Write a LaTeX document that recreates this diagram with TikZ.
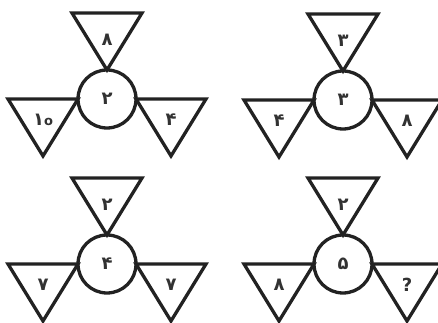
\documentclass[tikz,border=0pt]{standalone}
\usepackage{fontspec}
\usepackage{tikz}
\usetikzlibrary{calc}
\newfontfamily\farsi[Script=Arabic]{DejaVu Sans}
\definecolor{inkdark}{RGB}{34,34,34}
\definecolor{digitgray}{RGB}{50,50,50}
\newcommand{\sefr}{{\fontsize{13}{13}\selectfont o}}

\begin{document}
\begin{tikzpicture}[
    x=1pt, y=1pt,
    hub/.style={draw=inkdark, circle, line width=3.3pt, minimum size=58pt, inner sep=0pt, outer sep=0pt, font=\farsi\bfseries\fontsize{18}{18}\selectfont, text=digitgray},
    tri/.style={draw=inkdark, line width=3.3pt, line join=miter},
    num/.style={font=\farsi\bfseries\fontsize{18}{18}\selectfont, text=digitgray, inner sep=0pt}
]
    \useasboundingbox (0,0) rectangle (438,323);
    \clip (0,0) rectangle (438,323);

    % Figures: centre / middle / top / left / right
    \foreach \cx/\cy/\md/\tp/\lf/\rt/\i in {107/224/۲/۸/۱\sefr/۴/a, 343/223/۳/۳/۴/۸/b, 107/59/۴/۲/۷/۷/c, 343/59/۵/۲/۸/?/d} {
        \node[hub] (hub-\i) at (\cx,\cy) {\md};

        % Triangles
        \draw[tri] (hub-\i.north) -- ++(-35,57) -- ++(70,0) -- cycle;
        \draw[tri] (hub-\i.west) -- ++(-70,0) -- ++(35,-57) -- cycle;
        \draw[tri] (hub-\i.east) -- ++(70,0) -- ++(-35,-57) -- cycle;

        % Numbers
        \node[num] (top-\i) at ($(hub-\i.north) + (0,30)$) {\tp};
        \node[num] (lft-\i) at ($(hub-\i.west) + (-35,-21)$) {\lf};
        \node[num] (rgt-\i) at ($(hub-\i.east) + (35,-21)$) {\rt};
    }
\end{tikzpicture}
\end{document}
